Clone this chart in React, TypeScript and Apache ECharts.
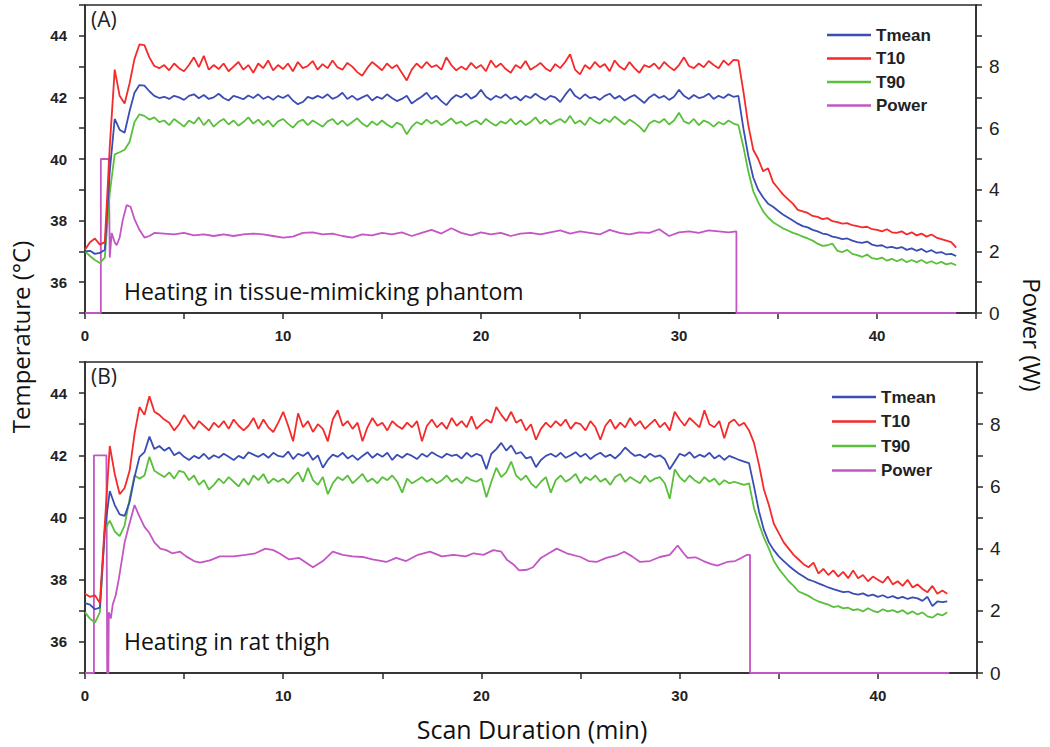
import React, { useEffect, useRef } from "react";
import * as echarts from "echarts";

// ---------- DATA ----------
const STEP = 0.25; // sampling step of temperature curves (min)

// Panel A: tissue-mimicking phantom (t = 0 .. 44 min)
const tmeanA = [
  37.00, 37.02, 36.92, 36.95,
  37.05, 39.60, 41.30, 40.95,
  40.85, 41.55, 42.15, 42.40,
  42.38, 42.20, 42.05, 41.98,
  42.02, 41.95, 42.05, 42.00,
  41.92, 42.05, 42.10, 41.97,
  42.08, 41.95, 42.00, 42.12,
  41.98, 41.90, 42.05, 42.00,
  41.94, 42.06, 41.98, 42.10,
  41.95, 42.03, 41.92, 42.05,
  41.98, 42.08, 41.90, 41.78,
  41.85, 42.02, 41.96, 42.05,
  41.98, 42.10, 41.95, 42.02,
  42.15, 41.95, 42.05, 41.92,
  42.00, 42.08, 41.90, 42.02,
  41.95, 42.10, 41.98, 41.88,
  41.95, 42.05, 41.80, 41.92,
  42.02, 42.15, 41.95, 42.05,
  41.88, 41.75, 41.95, 42.08,
  42.00, 42.12, 41.96, 42.05,
  42.25, 42.02, 41.92, 42.05,
  41.98, 42.10, 41.95, 42.03,
  41.90, 42.05, 41.98, 42.12,
  42.00, 41.92, 42.05, 42.00,
  41.85, 42.08, 42.28, 42.05,
  41.95, 42.10, 41.98, 42.02,
  41.92, 42.05, 42.12, 41.96,
  42.05, 41.90, 42.00, 42.08,
  41.95, 41.82, 42.00, 42.10,
  41.98, 42.05, 41.92, 42.02,
  42.25, 42.05, 41.95, 42.08,
  41.98, 42.02, 42.12, 41.95,
  42.05, 41.98, 42.10, 42.02,
  42.05, 41.00, 40.10, 39.40,
  39.00, 38.75, 38.55, 38.45,
  38.32, 38.20, 38.10, 38.00,
  37.90, 37.82, 37.78, 37.70,
  37.65, 37.58, 37.55, 37.48,
  37.45, 37.40, 37.42, 37.35,
  37.30, 37.28, 37.32, 37.22,
  37.18, 37.20, 37.12, 37.15,
  37.10, 37.14, 37.05, 37.10,
  37.02, 37.08, 36.98, 37.04,
  36.95, 36.98, 36.90, 36.92,
  36.85,
];

const t10A = [
  37.05, 37.30, 37.42, 37.22,
  37.30, 40.40, 42.90, 42.05,
  41.80, 42.45, 43.25, 43.72,
  43.70, 43.30, 43.02, 42.95,
  43.05, 42.88, 43.10, 42.95,
  42.85, 43.05, 43.30, 42.98,
  43.35, 42.90, 43.05, 42.92,
  43.10, 42.85, 43.00, 43.15,
  42.90, 43.05, 42.80, 43.10,
  42.95, 43.20, 42.88, 43.05,
  42.92, 43.10, 42.85, 43.15,
  42.95, 43.02, 43.18, 42.90,
  43.08, 42.95, 43.20, 42.98,
  42.90, 43.12, 43.00, 42.82,
  42.70, 42.95, 43.15, 43.02,
  42.88, 43.10, 42.95, 43.05,
  42.80, 42.55, 42.90, 43.10,
  42.95, 43.15, 42.98, 43.05,
  42.90, 43.30, 43.05, 42.88,
  43.00, 42.90, 43.12, 42.95,
  43.05, 42.85, 43.20, 42.98,
  43.10, 42.92, 42.80, 43.05,
  42.95, 43.18, 42.90, 43.00,
  43.12, 42.95, 42.85, 43.08,
  42.95, 43.15, 43.40, 42.90,
  42.75, 43.05, 42.92, 43.15,
  42.98, 43.08, 42.85, 43.20,
  43.00, 42.90, 43.15, 42.95,
  42.80, 43.05, 42.98, 43.10,
  42.92, 43.15, 43.00, 42.88,
  43.05, 43.30, 43.02, 42.95,
  43.10, 42.98, 43.18, 43.05,
  42.95, 43.20, 43.05, 43.22,
  43.20, 42.20, 41.10, 40.30,
  40.00, 39.60, 39.70, 39.25,
  39.05, 38.85, 38.70, 38.55,
  38.35, 38.30, 38.25, 38.15,
  38.12, 38.05, 38.08, 37.98,
  37.95, 37.90, 37.92, 37.85,
  37.82, 37.78, 37.80, 37.72,
  37.70, 37.65, 37.72, 37.62,
  37.60, 37.65, 37.55, 37.62,
  37.52, 37.58, 37.48, 37.55,
  37.45, 37.40, 37.35, 37.30,
  37.12,
];

const t90A = [
  37.00, 36.85, 36.72, 36.62,
  36.80, 38.90, 40.15, 40.22,
  40.30, 40.55, 41.20, 41.45,
  41.40, 41.28, 41.35, 41.20,
  41.25, 41.10, 41.30, 41.18,
  41.05, 41.25, 41.15, 41.35,
  41.10, 41.28, 41.05, 41.20,
  41.30, 41.12, 41.25, 41.08,
  41.20, 41.35, 41.15, 41.28,
  41.10, 41.25, 41.05, 41.22,
  41.30, 41.15, 41.02, 41.20,
  41.28, 41.10, 41.25, 41.15,
  41.05, 41.22, 41.30, 41.12,
  41.25, 41.08, 41.20, 41.32,
  41.15, 41.05, 41.22, 41.10,
  41.25, 41.12, 41.02, 41.18,
  41.10, 40.80, 41.05, 41.20,
  41.12, 41.28, 41.15, 41.25,
  41.10, 41.20, 41.32, 41.15,
  41.22, 41.08, 41.18, 41.25,
  41.12, 41.30, 41.18, 41.08,
  41.22, 41.15, 41.30, 41.12,
  41.25, 41.10, 41.20, 41.35,
  41.15, 41.28, 41.12, 41.22,
  41.30, 41.18, 41.40, 41.15,
  41.25, 41.10, 41.35, 41.22,
  41.15, 41.30, 41.20, 41.38,
  41.25, 41.12, 41.28, 41.18,
  41.05, 40.88, 41.15, 41.25,
  41.18, 41.30, 41.12, 41.25,
  41.50, 41.22, 41.15, 41.30,
  41.10, 41.25, 41.18, 41.05,
  41.20, 41.12, 41.25, 41.15,
  41.10, 40.40, 39.60, 38.95,
  38.60, 38.30, 38.10, 37.95,
  37.85, 37.75, 37.68, 37.60,
  37.55, 37.48, 37.42, 37.35,
  37.25, 37.18, 37.20, 37.25,
  37.02, 36.98, 37.05, 36.92,
  36.88, 36.82, 36.90, 36.78,
  36.75, 36.80, 36.70, 36.76,
  36.68, 36.75, 36.65, 36.72,
  36.65, 36.72, 36.62, 36.68,
  36.60, 36.66, 36.58, 36.62,
  36.55,
];

// [time (min), power (W)]
const powerA: number[][] = [
  [0, 0], [0.8, 0], [0.8, 5.0], [1.2, 5.0], [1.25, 1.8], [1.35, 2.6], [1.5, 2.3], [1.6, 2.2],
  [1.75, 2.45], [1.9, 3.0], [2.1, 3.5], [2.3, 3.45], [2.5, 3.05], [2.75, 2.7], [3.0, 2.45],
  [3.25, 2.5], [3.5, 2.6], [4, 2.58], [4.5, 2.55], [5, 2.6], [5.5, 2.52], [6, 2.55],
  [6.5, 2.5], [7, 2.55], [7.5, 2.5], [8, 2.55], [8.5, 2.58], [9, 2.55], [9.5, 2.5],
  [10, 2.45], [10.5, 2.48], [11, 2.6], [11.5, 2.62], [12, 2.55], [12.5, 2.58], [13, 2.5],
  [13.5, 2.45], [14, 2.55], [14.5, 2.52], [15, 2.6], [15.5, 2.55], [16, 2.62], [16.5, 2.5],
  [17, 2.6], [17.5, 2.7], [18, 2.58], [18.5, 2.75], [19, 2.6], [19.5, 2.52], [20, 2.62],
  [20.5, 2.55], [21, 2.6], [21.5, 2.5], [22, 2.58], [22.5, 2.6], [23, 2.55], [23.5, 2.62],
  [24, 2.68], [24.5, 2.58], [25, 2.65], [25.5, 2.6], [26, 2.55], [26.5, 2.7], [27, 2.6],
  [27.5, 2.55], [28, 2.62], [28.5, 2.6], [29, 2.72], [29.5, 2.5], [30, 2.62], [30.5, 2.65],
  [31, 2.6], [31.5, 2.68], [32, 2.65], [32.5, 2.62], [32.9, 2.65], [32.9, 0], [44, 0],
];

// Panel B: rat thigh (t = 0 .. 43.5 min)
const tmeanB = [
  37.25, 37.20, 37.05, 37.10,
  39.60, 40.85, 40.40, 40.10,
  40.05, 40.50, 41.30, 41.95,
  42.10, 42.60, 42.20, 42.30,
  42.15, 42.25, 42.00, 42.10,
  41.95, 41.85, 41.98, 41.90,
  42.05, 41.88, 42.00, 41.92,
  42.05, 41.95, 41.85, 41.98,
  41.90, 42.10, 42.02, 41.95,
  42.05, 41.92, 42.08, 41.98,
  41.95, 42.12, 41.88, 42.05,
  41.98, 42.10, 41.85, 42.00,
  41.60, 41.85, 42.02, 41.95,
  42.08, 41.90, 42.00, 41.85,
  41.98, 42.10, 41.92, 42.05,
  41.95, 42.08, 41.85, 42.02,
  41.92, 42.05, 41.98, 41.88,
  42.05, 41.95, 42.10, 42.00,
  41.92, 42.05, 41.98, 42.02,
  41.90, 42.08, 41.95, 42.05,
  41.98, 41.55, 42.05, 42.20,
  42.40, 42.15, 42.32, 42.05,
  42.10, 41.90, 41.95, 41.62,
  41.85, 41.98, 42.05, 41.95,
  42.08, 41.92, 42.00, 42.10,
  41.95, 42.05, 41.88, 42.00,
  42.08, 41.95, 42.02, 41.90,
  42.05, 42.25, 42.10, 41.98,
  42.02, 41.92, 42.05, 41.95,
  42.00, 41.88, 41.55, 41.80,
  42.05, 41.98, 42.10, 41.92,
  42.02, 41.95, 42.08, 41.90,
  42.00, 41.85, 41.98, 41.92,
  41.85, 41.80, 41.75, 41.00,
  40.20, 39.60, 39.20, 38.95,
  38.75, 38.60, 38.45, 38.32,
  38.20, 38.10, 38.00, 37.95,
  37.88, 37.82, 37.75, 37.70,
  37.65, 37.60, 37.62, 37.55,
  37.52, 37.56, 37.48, 37.52,
  37.45, 37.50, 37.42, 37.47,
  37.40, 37.45, 37.38, 37.43,
  37.40, 37.32, 37.45, 37.15,
  37.30, 37.28, 37.30,
];

const t10B = [
  37.55, 37.45, 37.50, 37.25,
  39.80, 42.30, 41.40, 40.75,
  40.95, 41.50, 42.70, 43.55,
  43.30, 43.90, 43.40, 43.30,
  43.15, 43.05, 42.80, 43.00,
  43.30, 43.05, 42.85, 43.10,
  42.95, 42.80, 43.05, 42.90,
  43.10, 42.85, 43.15, 42.95,
  42.80, 42.95, 43.20, 42.85,
  43.15, 42.90, 42.75, 43.05,
  43.40, 42.95, 42.45, 43.35,
  42.90, 43.10, 42.75, 43.00,
  42.85, 42.45, 43.15, 43.45,
  42.95, 43.10, 42.85, 43.05,
  42.45, 42.90, 43.20, 42.95,
  43.05, 42.80, 43.10, 42.95,
  42.85, 43.05, 42.90, 43.10,
  42.45, 42.95, 43.15, 42.90,
  43.05, 42.85, 43.20, 42.95,
  43.10, 42.90, 43.25, 42.85,
  43.00, 43.15, 43.05, 43.55,
  43.30, 43.10, 43.40, 43.05,
  43.15, 42.80, 43.00, 42.50,
  42.85, 43.05, 42.90, 43.10,
  42.95, 43.15, 42.85, 43.05,
  43.00, 42.80, 43.10, 42.90,
  42.50, 42.95, 43.15, 42.85,
  43.05, 42.90, 43.20, 42.95,
  43.10, 42.85, 43.00, 43.15,
  42.90, 43.05, 42.80, 43.40,
  43.15, 42.95, 43.20, 43.05,
  42.90, 43.45, 43.00, 42.90,
  43.10, 42.55, 43.05, 43.15,
  42.95, 43.05, 42.80, 42.40,
  41.70, 40.90, 40.40, 39.80,
  39.50, 39.20, 39.00, 38.80,
  38.65, 38.50, 38.40, 38.55,
  38.20, 38.35, 38.15, 38.30,
  38.10, 38.25, 38.05, 38.30,
  38.05, 38.15, 37.95, 38.10,
  38.00, 37.90, 38.10, 37.85,
  37.95, 37.80, 38.00, 37.75,
  37.85, 37.70, 37.60, 37.80,
  37.55, 37.65, 37.55,
];

const t90B = [
  36.95, 36.75, 36.62, 36.95,
  39.60, 39.90, 39.55, 39.40,
  39.75, 40.60, 41.35, 41.25,
  41.35, 41.95, 41.50, 41.40,
  41.30, 41.45, 41.25, 41.50,
  41.45, 41.20, 41.35, 41.05,
  41.20, 40.90, 41.05, 41.25,
  41.10, 41.30, 41.15, 41.00,
  41.25, 41.05, 41.35, 41.20,
  41.40, 41.10, 41.25, 41.15,
  41.25, 41.10, 41.30, 41.45,
  41.15, 41.60, 41.20, 41.05,
  41.30, 40.75, 41.10, 41.30,
  41.20, 41.35, 41.10, 41.25,
  41.40, 41.15, 41.25, 41.10,
  41.30, 41.20, 41.35, 41.15,
  40.80, 41.25, 41.10, 41.20,
  41.30, 41.15, 41.25, 41.10,
  41.20, 41.35, 41.15, 41.25,
  41.10, 41.30, 41.20, 41.15,
  41.25, 40.65, 41.15, 41.60,
  41.30, 41.45, 41.80, 41.35,
  41.20, 41.35, 41.10, 40.95,
  41.15, 41.30, 40.80, 41.20,
  41.35, 41.15, 41.25, 41.40,
  41.10, 41.30, 41.20, 41.35,
  41.15, 41.25, 41.05, 41.30,
  41.40, 41.15, 41.30, 41.20,
  41.10, 41.35, 41.15, 41.25,
  41.30, 41.10, 40.60, 41.55,
  41.30, 41.15, 41.35, 41.20,
  41.10, 41.30, 41.15, 41.25,
  41.05, 41.20, 41.10, 41.15,
  41.10, 41.05, 41.10, 40.30,
  39.80, 39.35, 39.00, 38.60,
  38.35, 38.15, 37.95, 37.80,
  37.62, 37.55, 37.48, 37.38,
  37.30, 37.25, 37.20, 37.12,
  37.15, 37.08, 37.10, 37.02,
  37.05, 36.98, 37.08, 37.00,
  36.95, 37.05, 36.98, 37.02,
  36.95, 37.02, 36.90, 36.98,
  36.88, 36.95, 36.82, 36.78,
  36.90, 36.85, 36.95,
];

const powerB: number[][] = [
  [0, 0], [0.45, 0], [0.45, 7.0], [1.08, 7.0], [1.12, 0], [1.18, 0], [1.2, 1.95], [1.3, 1.75],
  [1.4, 2.2], [1.55, 2.5], [1.7, 3.0], [1.85, 3.6], [2.0, 4.2], [2.2, 4.7], [2.37, 5.1],
  [2.5, 5.4], [2.7, 5.1], [2.85, 4.9], [3.0, 4.7], [3.25, 4.5], [3.5, 4.2], [3.8, 4.0],
  [4.1, 3.95], [4.4, 3.85], [4.8, 3.9], [5.1, 3.75], [5.5, 3.6], [5.8, 3.55], [6.3, 3.62],
  [6.8, 3.75], [7.5, 3.75], [8.1, 3.8], [8.6, 3.85], [9.1, 4.0], [9.5, 3.95], [9.8, 3.85],
  [10.3, 3.65], [10.8, 3.7], [11.5, 3.4], [12.0, 3.6], [12.5, 3.9], [13.0, 3.8], [13.5, 3.75],
  [14.0, 3.73], [14.5, 3.65], [15.2, 3.57], [15.7, 3.7], [16.2, 3.6], [16.8, 3.8], [17.4, 3.9],
  [18.0, 3.75], [18.6, 3.8], [19.2, 3.75], [19.6, 3.85], [20.1, 3.8], [20.6, 3.95], [21.0, 3.9],
  [21.3, 3.63], [21.6, 3.5], [21.9, 3.3], [22.3, 3.32], [22.6, 3.4], [23.0, 3.7], [23.4, 3.85],
  [23.8, 4.0], [24.3, 3.85], [25.0, 3.73], [25.4, 3.6], [25.8, 3.57], [26.3, 3.7], [26.8, 3.78],
  [27.2, 3.9], [27.6, 3.75], [28.0, 3.57], [28.5, 3.6], [29.0, 3.73], [29.5, 3.8], [29.9, 4.1],
  [30.2, 3.85], [30.4, 3.7], [30.8, 3.72], [31.2, 3.6], [31.6, 3.5], [31.9, 3.45], [32.4, 3.57],
  [32.8, 3.6], [33.1, 3.7], [33.4, 3.8], [33.55, 3.8], [33.55, 0], [43.6, 0],
];

const SERIES_NAMES = ["Tmean", "T10", "T90", "Power"];
const X_TICK_LABELS = [0, 10, 20, 30, 40];
const TEMP_TICK_LABELS = [36, 38, 40, 42, 44];
const POWER_TICK_LABELS = [0, 2, 4, 6, 8];

// ---------- STYLE ----------
const COLORS: Record<string, string> = {
  Tmean: "#3a4db5",
  T10: "#f52a2a",
  T90: "#5abf3a",
  Power: "#c455c4",
};
const AXIS_COLOR = "#2a2a2a";
const TICK_FONT = "Liberation Sans";
const TITLE_FONT = "Open Sans";

const withTime = (vals: number[]) => vals.map((v, i) => [i * STEP, v]);

function xAxisFor(gridIndex: number) {
  return {
    type: "value",
    gridIndex,
    min: 0,
    max: 45,
    interval: 5,
    axisLine: { show: true, onZero: false, lineStyle: { color: AXIS_COLOR, width: 1.5 } },
    axisTick: { show: true, inside: false, length: 6, lineStyle: { color: AXIS_COLOR, width: 1.5 } },
    splitLine: { show: false },
    axisLabel: {
      margin: 15,
      fontFamily: TICK_FONT,
      fontSize: 15,
      fontWeight: "bold",
      color: "#222",
      formatter: (v: number) => (X_TICK_LABELS.includes(v) ? String(v) : ""),
    },
  };
}

function tempAxisFor(gridIndex: number) {
  return {
    type: "value",
    gridIndex,
    position: "left",
    min: 35,
    max: 45,
    interval: 1,
    axisLine: { show: true, onZero: false, lineStyle: { color: AXIS_COLOR, width: 1.5 } },
    axisTick: { show: true, inside: false, length: 6, lineStyle: { color: AXIS_COLOR, width: 1.5 } },
    splitLine: { show: false },
    axisLabel: {
      margin: 18,
      fontFamily: TICK_FONT,
      fontSize: 15,
      fontWeight: "bold",
      color: "#222",
      formatter: (v: number) => (TEMP_TICK_LABELS.includes(v) ? String(v) : ""),
    },
  };
}

function powerAxisFor(gridIndex: number) {
  return {
    type: "value",
    gridIndex,
    position: "right",
    min: 0,
    max: 10,
    interval: 1,
    axisLine: { show: true, onZero: false, lineStyle: { color: AXIS_COLOR, width: 1.5 } },
    axisTick: { show: true, inside: false, length: 6, lineStyle: { color: AXIS_COLOR, width: 1.5 } },
    splitLine: { show: false },
    axisLabel: {
      margin: 13,
      fontFamily: TICK_FONT,
      fontSize: 19,
      color: "#222",
      formatter: (v: number) => (POWER_TICK_LABELS.includes(v) ? String(v) : ""),
    },
  };
}

function lineSeries(name: string, data: number[][], xAxisIndex: number, yAxisIndex: number) {
  return {
    type: "line",
    name,
    data,
    xAxisIndex,
    yAxisIndex,
    symbol: "none",
    smooth: false,
    lineStyle: { color: COLORS[name], width: 1.8 },
    itemStyle: { color: COLORS[name] },
    z: name === "Power" ? 2 : 3,
  };
}

function legendFor(left: number, top: number, gap: number) {
  return {
    orient: "vertical",
    left,
    top,
    icon: "rect",
    itemWidth: 44,
    itemHeight: 2.5,
    itemGap: gap,
    data: SERIES_NAMES,
    selectedMode: false,
    textStyle: { fontFamily: TICK_FONT, fontSize: 17, fontWeight: "bold", color: "#222", lineHeight: 18 },
  };
}

export default function App() {
  const ref = useRef<HTMLDivElement>(null);

  useEffect(() => {
    if (!ref.current) return;
    const chart = echarts.init(ref.current, undefined, { renderer: "svg" });

    const option = {
      animation: false,
      backgroundColor: "#ffffff",
      grid: [
        { left: 85, right: 74, top: 5, height: 308, show: true, borderColor: AXIS_COLOR, borderWidth: 1.5, backgroundColor: "transparent" },
        { left: 85, right: 73, top: 362, height: 311, show: true, borderColor: AXIS_COLOR, borderWidth: 1.5, backgroundColor: "transparent" },
      ],
      xAxis: [xAxisFor(0), xAxisFor(1)],
      yAxis: [tempAxisFor(0), powerAxisFor(0), tempAxisFor(1), powerAxisFor(1)],
      legend: [legendFor(822, 21, 5.5), legendFor(827, 383, 6.5)],
      series: [
        lineSeries("Power", powerA, 0, 1),
        lineSeries("T90", withTime(t90A), 0, 0),
        lineSeries("Tmean", withTime(tmeanA), 0, 0),
        lineSeries("T10", withTime(t10A), 0, 0),
        lineSeries("Power", powerB, 1, 3),
        lineSeries("T90", withTime(t90B), 1, 2),
        lineSeries("Tmean", withTime(tmeanB), 1, 2),
        lineSeries("T10", withTime(t10B), 1, 2),
      ],
      graphic: [
        { type: "text", left: 91, top: 8, style: { text: "(A)", fontFamily: TITLE_FONT, fontSize: 21, fill: "#222" } },
        { type: "text", left: 91, top: 365, style: { text: "(B)", fontFamily: TITLE_FONT, fontSize: 21, fill: "#222" } },
        { type: "text", left: 124, top: 279, style: { text: "Heating in tissue-mimicking phantom", fontFamily: TITLE_FONT, fontSize: 23, fill: "#111" } },
        { type: "text", left: 124, top: 629, style: { text: "Heating in rat thigh", fontFamily: TITLE_FONT, fontSize: 23, fill: "#111" } },
        {
          type: "text", x: 20, y: 337, rotation: Math.PI / 2,
          style: { text: "Temperature (°C)", fontFamily: TITLE_FONT, fontSize: 24, fill: "#111", textAlign: "center", textVerticalAlign: "middle" },
        },
        {
          type: "text", x: 1032, y: 335, rotation: -Math.PI / 2,
          style: { text: "Power (W)", fontFamily: TITLE_FONT, fontSize: 24, fill: "#111", textAlign: "center", textVerticalAlign: "middle" },
        },
        {
          type: "text", x: 532, y: 729,
          style: { text: "Scan Duration (min)", fontFamily: TITLE_FONT, fontSize: 25, fill: "#111", textAlign: "center", textVerticalAlign: "middle" },
        },
      ],
    };

    chart.setOption(option as any);
    return () => chart.dispose();
  }, []);

  return (
    <div
      ref={ref}
      style={{ position: "absolute", left: 0, top: 0, width: 1050, height: 747, background: "#fff" }}
    />
  );
}
